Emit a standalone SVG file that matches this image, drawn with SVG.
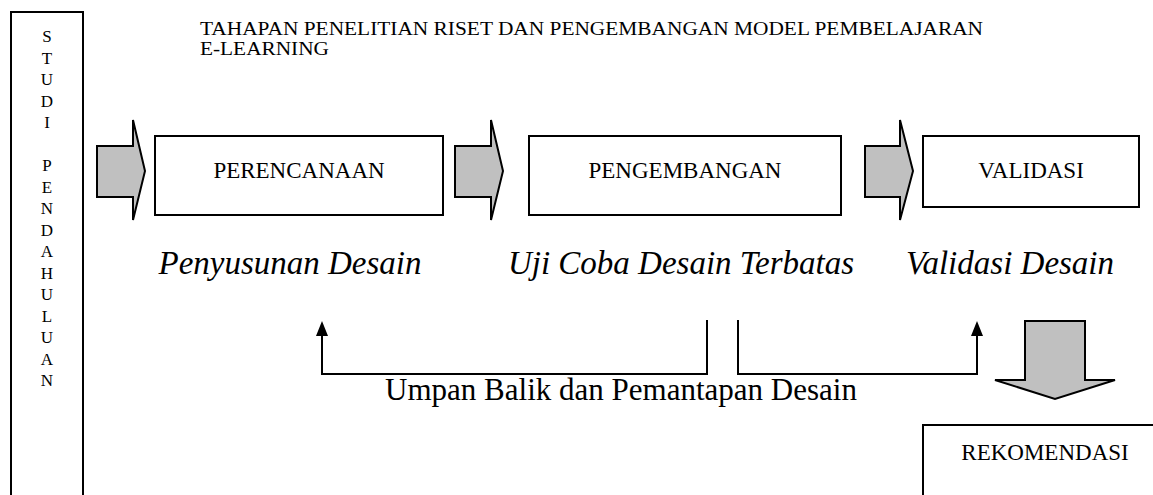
<svg xmlns="http://www.w3.org/2000/svg" width="1153" height="495" viewBox="0 0 1153 495">
<defs>
<style>
.t{font-family:"Liberation Serif","Times New Roman",serif;fill:#000}
.box{fill:#fff;stroke:#000;stroke-width:2}
.arr{fill:#c0c0c0;stroke:#000;stroke-width:2;stroke-linejoin:miter}
.ln{fill:none;stroke:#000;stroke-width:2}
.head{fill:#000;stroke:none}
.lbl{font-size:23px;text-anchor:middle}
.it{font-size:33px;font-style:italic;text-anchor:middle}
.v{font-size:17px;text-anchor:middle}
</style>
</defs>
<rect width="1153" height="495" fill="#fff"/>
<g id="title">
<text class="t" x="200" y="35" font-size="18" textLength="783" lengthAdjust="spacingAndGlyphs">TAHAPAN PENELITIAN RISET DAN PENGEMBANGAN MODEL PEMBELAJARAN</text>
<text class="t" x="200" y="55" font-size="18" textLength="129" lengthAdjust="spacingAndGlyphs">E-LEARNING</text>
</g>
<g id="studi">
<rect class="box" x="11" y="12" width="72" height="490"/>
<text class="t v" x="47" y="42">S</text>
<text class="t v" x="47" y="63.5">T</text>
<text class="t v" x="47" y="85">U</text>
<text class="t v" x="47" y="106.5">D</text>
<text class="t v" x="47" y="128">I</text>
<text class="t v" x="47" y="171">P</text>
<text class="t v" x="47" y="192.5">E</text>
<text class="t v" x="47" y="214">N</text>
<text class="t v" x="47" y="235.5">D</text>
<text class="t v" x="47" y="257">A</text>
<text class="t v" x="47" y="278.5">H</text>
<text class="t v" x="47" y="300">U</text>
<text class="t v" x="47" y="321.5">L</text>
<text class="t v" x="47" y="343">U</text>
<text class="t v" x="47" y="364.5">A</text>
<text class="t v" x="47" y="386">N</text>
</g>
<g id="arrow1"><polygon class="arr" points="97,146 133,146 133,120 145,171 133,220 133,197 97,197"/></g>
<g id="perencanaan">
<rect class="box" x="155" y="136" width="288" height="79"/>
<text class="t lbl" x="299" y="178">PERENCANAAN</text>
</g>
<g id="arrow2"><polygon class="arr" points="455,146 491,146 491,120 503,171 491,220 491,197 455,197"/></g>
<g id="pengembangan">
<rect class="box" x="529" y="136" width="312" height="79"/>
<text class="t lbl" x="685" y="178">PENGEMBANGAN</text>
</g>
<g id="arrow3"><polygon class="arr" points="865,146 900,146 900,120 913,171 900,220 900,197 865,197"/></g>
<g id="validasi">
<rect class="box" x="923" y="136" width="216" height="71"/>
<text class="t lbl" x="1031" y="178">VALIDASI</text>
</g>
<g id="captions">
<text class="t it" x="290" y="274">Penyusunan Desain</text>
<text class="t it" x="681" y="274">Uji Coba Desain Terbatas</text>
<text class="t it" x="1010" y="274">Validasi Desain</text>
</g>
<g id="connectors">
<polyline class="ln" points="707,320 707,374 322,374 322,334"/>
<polygon class="head" points="322,321 328,336 316,336"/>
<polyline class="ln" points="738,320 738,374 977,374 977,334"/>
<polygon class="head" points="977,321 983,336 971,336"/>
<text class="t" x="621" y="400" font-size="31" text-anchor="middle">Umpan Balik dan Pemantapan Desain</text>
</g>
<g id="downarrow"><polygon class="arr" points="1025,321 1085,321 1085,380 1115,380 1055,399 995,380 1025,380"/></g>
<g id="rekomendasi">
<rect class="box" x="923" y="425" width="250" height="90"/>
<text class="t lbl" x="1045" y="460">REKOMENDASI</text>
</g>
</svg>
